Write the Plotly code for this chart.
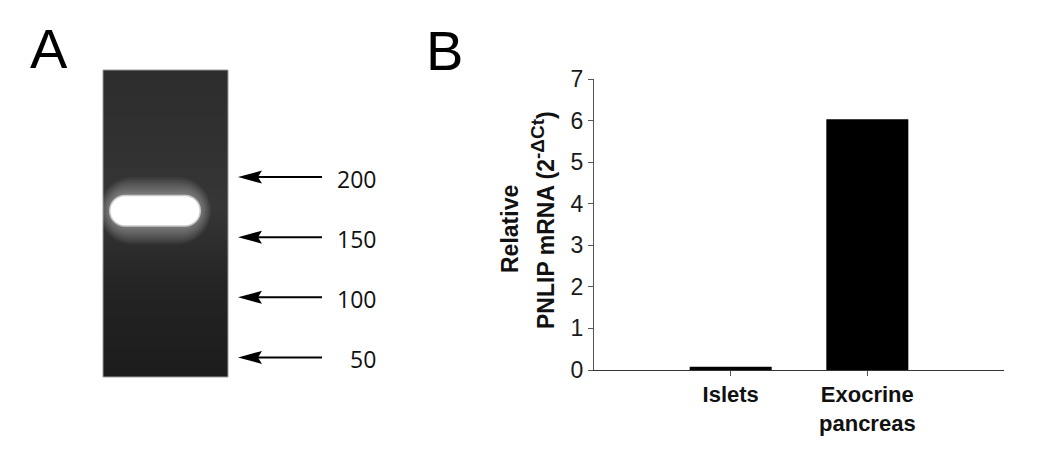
import plotly.graph_objects as go

# panel B: qPCR bar chart
categories = ["Islets", "Exocrine<br>pancreas"]
pnlip_mrna = [0.08, 6.03]
y_ticks = [0, 1, 2, 3, 4, 5, 6, 7]

# panel A: gel, ladder sizes and the band (bp)
ladder_bp = [200, 150, 100, 50]
ladder_labels = ["200", "150", "100", "50"]
band_bp = 172

W, H = 1040, 465
OFF = 8  # page body margin, the figure is drawn from (8, 8)


def px(x):
    return (x - OFF) / W


def py(y):
    return 1 - (y - OFF) / H


# gel drawn on a hidden axis pair: x in screen px, y in bp
GEL_X = (103, 228)
GEL_BP = (33.7, 289.1)
BP_PX0, BP_PER_PX = 417.5, 1.202
GEL_RANGE = [(BP_PX0 - (OFF + H)) / BP_PER_PX, (BP_PX0 - OFF) / BP_PER_PX]

fig = go.Figure()


def stadium(w, h):
    # rounded band outline in pixels around its anchor
    r = h / 2
    k = 0.5523 * r
    a = w / 2 - r
    return (f"M{-a},{-r} H{a} C{a + k},{-r} {a + r},{-k} {a + r},0 "
            f"C{a + r},{k} {a + k},{r} {a},{r} H{-a} "
            f"C{-a - k},{r} {-a - r},{k} {-a - r},0 "
            f"C{-a - r},{-k} {-a - k},{-r} {-a},{-r} Z")


# gel background with a vertical gradient
fig.add_trace(go.Scatter(
    x=[GEL_X[0], GEL_X[1], GEL_X[1], GEL_X[0], GEL_X[0]],
    y=[GEL_BP[0], GEL_BP[0], GEL_BP[1], GEL_BP[1], GEL_BP[0]],
    xaxis="x2", yaxis="y2", mode="lines", fill="toself",
    line=dict(color="#9a9a9a", width=1),
    fillgradient=dict(type="vertical", start=GEL_BP[0], stop=GEL_BP[1],
                      colorscale=[[0, "#1c1c1c"], [0.3, "#242424"],
                                  [0.55, "#363636"], [0.8, "#303030"],
                                  [1, "#2d2d2d"]]),
    hoverinfo="skip", showlegend=False,
))

shapes = []
band_cx = 155
# soft glow around the band
for grow in range(40, 0, -3):
    shapes.append(dict(type="path", xref="x2", yref="y2",
                       xsizemode="pixel", ysizemode="pixel",
                       xanchor=band_cx, yanchor=band_bp,
                       path=stadium(88 + grow * 0.6, 28 + grow),
                       fillcolor="white", opacity=0.035, line=dict(width=0)))
shapes.append(dict(type="path", xref="x2", yref="y2",
                   xsizemode="pixel", ysizemode="pixel",
                   xanchor=band_cx, yanchor=band_bp,
                   path=stadium(92, 32),
                   fillcolor="white", opacity=0.6, line=dict(width=0)))
shapes.append(dict(type="path", xref="x2", yref="y2",
                   xsizemode="pixel", ysizemode="pixel",
                   xanchor=band_cx, yanchor=band_bp,
                   path=stadium(89, 29),
                   fillcolor="white", line=dict(width=0)))

# ladder arrows
for bp in ladder_bp:
    shapes.append(dict(type="line", xref="x2", yref="y2",
                       x0=255, x1=322, y0=bp, y1=bp,
                       line=dict(color="black", width=2)))
    shapes.append(dict(type="path", xref="x2", yref="y2",
                       xsizemode="pixel", ysizemode="pixel",
                       xanchor=238, yanchor=bp,
                       path="M0,0 L24,-6.5 L20,0 L24,6.5 Z",
                       fillcolor="black", line=dict(width=0)))

annotations = []
for bp, lab in zip(ladder_bp, ladder_labels):
    annotations.append(dict(x=378, y=bp, xref="x2", yref="y2", text=lab,
                            showarrow=False, xanchor="right", yanchor="middle",
                            yshift=-2,
                            font=dict(family="Open Sans", size=23, color="#111")))

# panel letters
letter_font = dict(family="Liberation Sans", size=56, color="black")
annotations.append(dict(x=px(48.5), y=py(48), xref="paper", yref="paper",
                        text="A", showarrow=False, xanchor="center",
                        yanchor="middle", font=letter_font))
annotations.append(dict(x=px(444), y=py(50), xref="paper", yref="paper",
                        text="B", showarrow=False, xanchor="center",
                        yanchor="middle", font=letter_font))

# y-axis title of panel B (two lines)
title_font = dict(family="Liberation Sans", size=23, color="#111", weight=700)
annotations.append(dict(x=px(510), y=py(229), xref="paper", yref="paper",
                        text="Relative", textangle=-90, showarrow=False,
                        xanchor="center", yanchor="middle", font=title_font))
annotations.append(dict(x=px(543), y=py(220), xref="paper", yref="paper",
                        text=("PNLIP mRNA (2<sup><span style=\"font-size:19px\">"
                              "-ΔCt</span></sup>)"),
                        textangle=-90, showarrow=False,
                        xanchor="center", yanchor="middle", font=title_font))

fig.add_trace(go.Bar(
    x=categories, y=pnlip_mrna, width=0.6,
    marker=dict(color="black", line=dict(width=0)),
    showlegend=False,
))

fig.update_layout(
    width=W, height=H,
    margin=dict(l=0, r=0, t=0, b=0, autoexpand=False),
    paper_bgcolor="white", plot_bgcolor="rgba(0,0,0,0)",
    shapes=shapes, annotations=annotations,
    xaxis=dict(domain=[px(594), px(1004)], type="category", range=[-1, 2],
               showline=True, linecolor="#333", linewidth=1,
               ticks="outside", ticklen=5, tickcolor="#555",
               showgrid=False, zeroline=False,
               tickfont=dict(family="Liberation Sans", size=22, color="#111",
                             weight=700)),
    yaxis=dict(domain=[py(370), py(79)], range=[0, 7],
               tickvals=y_ticks, showline=True, linecolor="#555", linewidth=1,
               ticks="outside", ticklen=5, tickcolor="#555",
               showgrid=False, zeroline=False,
               tickfont=dict(family="Liberation Sans", size=23, color="#1a1a1a")),
    xaxis2=dict(domain=[0, 1], range=[OFF, OFF + W], visible=False, anchor="y2"),
    yaxis2=dict(domain=[0, 1], range=GEL_RANGE, visible=False, anchor="x2"),
)

fig.write_html("out.html")
